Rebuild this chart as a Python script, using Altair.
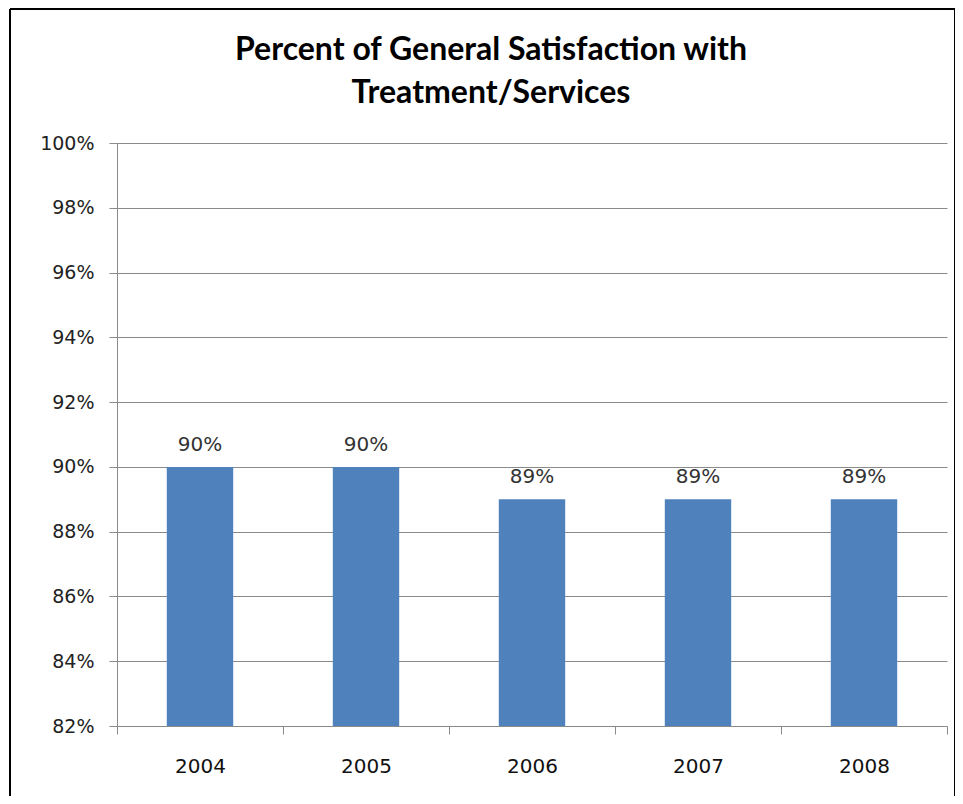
import altair as alt
import pandas as pd

years = ["2004", "2005", "2006", "2007", "2008"]
values = [0.90, 0.90, 0.89, 0.89, 0.89]
labels = ["90%", "90%", "89%", "89%", "89%"]
y_ticks = [0.82, 0.84, 0.86, 0.88, 0.90, 0.92, 0.94, 0.96, 0.98, 1.00]
title_text = "Percent of General Satisfaction with\nTreatment/Services"

df = pd.DataFrame({"year": years, "value": values, "label": labels})

W, H = 830, 583
GRAY = "#8a8a8a"
FONT = "DejaVu Sans"

x_enc = alt.X("year:N", sort=years, title=None,
              scale=alt.Scale(paddingInner=0, paddingOuter=0),
              axis=alt.Axis(labelAngle=0, tickBand="extent", tickSize=8,
                            tickColor=GRAY, domainColor=GRAY, labelPadding=22,
                            labelFont=FONT, labelFontSize=20, labelColor="#111",
                            grid=False))
y_scale = alt.Scale(domain=[0.82, 1.0], zero=False, nice=False)

bars = alt.Chart(df).mark_bar(color="#4F81BD", width=alt.RelativeBandSize(0.4)).encode(
    x=x_enc,
    y=alt.Y("value:Q", scale=y_scale, title=None,
            axis=alt.Axis(values=y_ticks, format=".0%", tickSize=8, tickColor=GRAY,
                          domainColor=GRAY, gridColor=GRAY, gridOpacity=1,
                          labelPadding=15, labelFont=FONT, labelFontSize=19,
                          labelColor="#222")),
    y2=alt.datum(0.82),
)

text = alt.Chart(df).mark_text(baseline="alphabetic", dy=-16, font=FONT, fontSize=20,
                               color="#333").encode(
    x=alt.X("year:N", sort=years),
    y=alt.Y("value:Q", scale=y_scale),
    text="label:N",
)

title_df = pd.DataFrame({"t": [title_text]})
title = alt.Chart(title_df).mark_text(
    font="Lato", fontSize=32, fontWeight="bold", color="#000", lineHeight=43,
    lineBreak="\n", align="center", baseline="alphabetic"
).encode(x=alt.value(374), y=alt.value(-83), text="t:N")

border_t = alt.Chart(df).mark_rule(color="black", strokeWidth=2).encode(
    x=alt.value(-107), x2=alt.value(838), y=alt.value(-134), y2=alt.value(-134)
)
border_l = alt.Chart(df).mark_rule(color="black", strokeWidth=2).encode(
    x=alt.value(-107), y=alt.value(-134), y2=alt.value(661)
)
border_r = alt.Chart(df).mark_rule(color="black", strokeWidth=2).encode(
    x=alt.value(838), y=alt.value(-134), y2=alt.value(661)
)

chart = alt.layer(bars, text, title, border_t, border_l, border_r).properties(
    width=W, height=H,
    autosize=alt.AutoSizeParams(type="none"),
    padding={"left": 109, "top": 135, "right": 8, "bottom": 70},
).configure_view(stroke=None)

chart.save("out.html", embed_options={"renderer": "svg", "actions": False})
